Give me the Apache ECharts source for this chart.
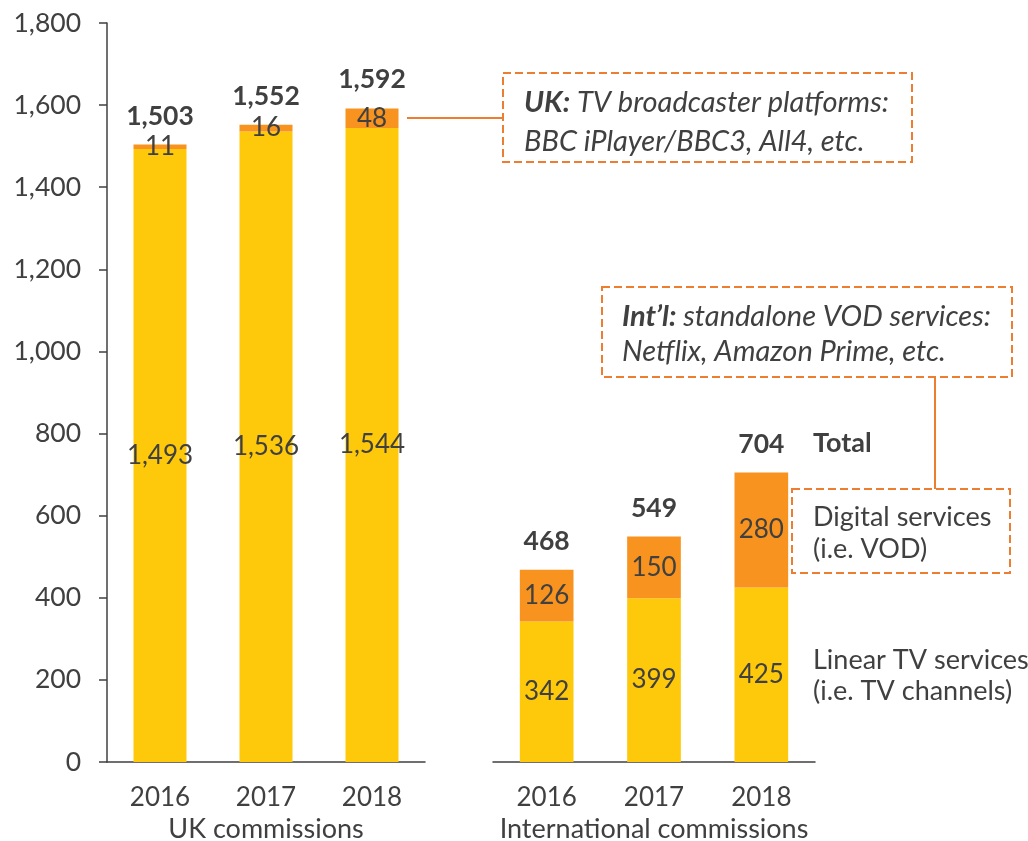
<!DOCTYPE html>
<html><head><meta charset="utf-8">
<script src="https://cdn.jsdelivr.net/npm/echarts@6/dist/echarts.min.js"></script>
<style>html,body{margin:0;padding:0;background:#fff}#c{width:1028px;height:841px}</style>
</head><body><div id="c"></div>
<script>
const categories = ['2016', '2017', '2018'];
const ukLinear = [1493, 1536, 1544];
const ukDigital = [11, 16, 48];
const ukTotal = [1503, 1552, 1592];
const intlLinear = [342, 399, 425];
const intlDigital = [126, 150, 280];
const intlTotal = [468, 549, 704];
const groupNames = ['UK commissions', 'International commissions'];

const FONT = 'Lato';
const TXT = '#404040';
const YELLOW = '#FFC90B';
const ORANGE = '#F7931E';
const LINE = '#ED7D31';
const FS = 26;
const fmt = v => Number(v).toLocaleString('en-US');

const chart = echarts.init(document.getElementById('c'), null, {renderer: 'canvas'});

function xAxis(gi, name) {
  return {
    type: 'category', gridIndex: gi, data: categories,
    axisLine: {lineStyle: {color: TXT, width: 1.5}},
    axisTick: {alignWithLabel: false, length: 8, lineStyle: {color: TXT, width: 1.5}},
    axisLabel: {color: TXT, fontFamily: FONT, fontSize: FS, margin: 23},
    name: name, nameLocation: 'middle', nameGap: 54,
    nameTextStyle: {color: TXT, fontFamily: FONT, fontSize: FS + 1}
  };
}
function yAxis(gi, show) {
  return {
    type: 'value', gridIndex: gi, min: 0, max: 1800, interval: 200,
    splitLine: {show: false},
    axisLine: {show: show, lineStyle: {color: TXT, width: 1.5}},
    axisTick: {show: show, length: 8, lineStyle: {color: TXT, width: 1.5}},
    axisLabel: {show: show, color: TXT, fontFamily: FONT, fontSize: FS + 0.5, margin: 26, formatter: fmt}
  };
}
function seriesFor(gi, lin, dig, tot) {
  const inLabel = {show: true, position: 'inside', color: TXT, fontFamily: FONT, fontSize: FS, formatter: p => fmt(p.value)};
  return [
    {type: 'bar', xAxisIndex: gi, yAxisIndex: gi, stack: 's' + gi, data: lin, barWidth: '50%',
     itemStyle: {color: YELLOW}, label: inLabel},
    {type: 'bar', xAxisIndex: gi, yAxisIndex: gi, stack: 's' + gi, data: dig, barWidth: '50%',
     itemStyle: {color: ORANGE}, label: inLabel},
    {type: 'bar', xAxisIndex: gi, yAxisIndex: gi, data: tot, barWidth: '50%', barGap: '-100%',
     itemStyle: {color: 'rgba(0,0,0,0)'}, silent: true, z: 1,
     label: {show: true, position: 'top', distance: 15, color: TXT, fontFamily: FONT, fontSize: FS + 0.5, fontWeight: 'bold', formatter: p => fmt(p.value)}}
  ];
}

const dash = {stroke: LINE, lineWidth: 2, lineDash: [8, 4], fill: 'rgba(0,0,0,0)'};
const solid = {stroke: LINE, lineWidth: 2};
const IFS = 29;
const it = {fontFamily: FONT, fontSize: IFS, fontStyle: 'italic', fill: TXT};
const bi = {fontWeight: 'bold', fontStyle: 'italic', fontFamily: FONT, fontSize: IFS, fill: TXT};
const reg = {fontFamily: FONT, fontSize: 27, fill: TXT, verticalAlign: 'middle'};

chart.setOption({
  animation: false,
  grid: [
    {left: 107, width: 318, top: 23, bottom: 79, outerBoundsMode: 'none', containLabel: false},
    {left: 493, width: 322, top: 23, bottom: 79, outerBoundsMode: 'none', containLabel: false}
  ],
  xAxis: [xAxis(0, groupNames[0]), xAxis(1, groupNames[1])],
  yAxis: [yAxis(0, true), yAxis(1, false)],
  series: [].concat(seriesFor(0, ukLinear, ukDigital, ukTotal), seriesFor(1, intlLinear, intlDigital, intlTotal)),
  graphic: [
    {type: 'line', shape: {x1: 407, y1: 118, x2: 503, y2: 118}, style: solid},
    {type: 'rect', shape: {x: 503, y: 73, width: 409, height: 89}, style: dash},
    {type: 'text', x: 524, y: 103, style: {rich: {b: bi, i: it},
      text: '{b|UK:}{i| TV broadcaster platforms:}', verticalAlign: 'middle'}},
    {type: 'text', x: 524, y: 142, style: Object.assign({text: 'BBC iPlayer/BBC3, All4, etc.', verticalAlign: 'middle'}, it)},

    {type: 'rect', shape: {x: 602, y: 287, width: 410, height: 90}, style: dash},
    {type: 'text', x: 622, y: 317, style: {rich: {b: bi, i: it},
      text: '{b|Int\u2019l:}{i| standalone VOD services:}', verticalAlign: 'middle'}},
    {type: 'text', x: 622, y: 352, style: Object.assign({text: 'Netflix, Amazon Prime, etc.', verticalAlign: 'middle'}, it)},
    {type: 'line', shape: {x1: 935, y1: 377, x2: 935, y2: 489}, style: solid},

    {type: 'rect', shape: {x: 792, y: 489, width: 218, height: 84}, style: dash},
    {type: 'text', x: 813, y: 517, style: Object.assign({text: 'Digital services'}, reg)},
    {type: 'text', x: 813, y: 549, style: Object.assign({text: '(i.e. VOD)'}, reg)},
    {type: 'text', x: 813, y: 660, style: Object.assign({text: 'Linear TV services'}, reg)},
    {type: 'text', x: 813, y: 691, style: Object.assign({text: '(i.e. TV channels)'}, reg)},
    {type: 'text', x: 813, y: 443, style: Object.assign({text: 'Total', fontWeight: 'bold'}, reg)}
  ]
});
</script></body></html>
